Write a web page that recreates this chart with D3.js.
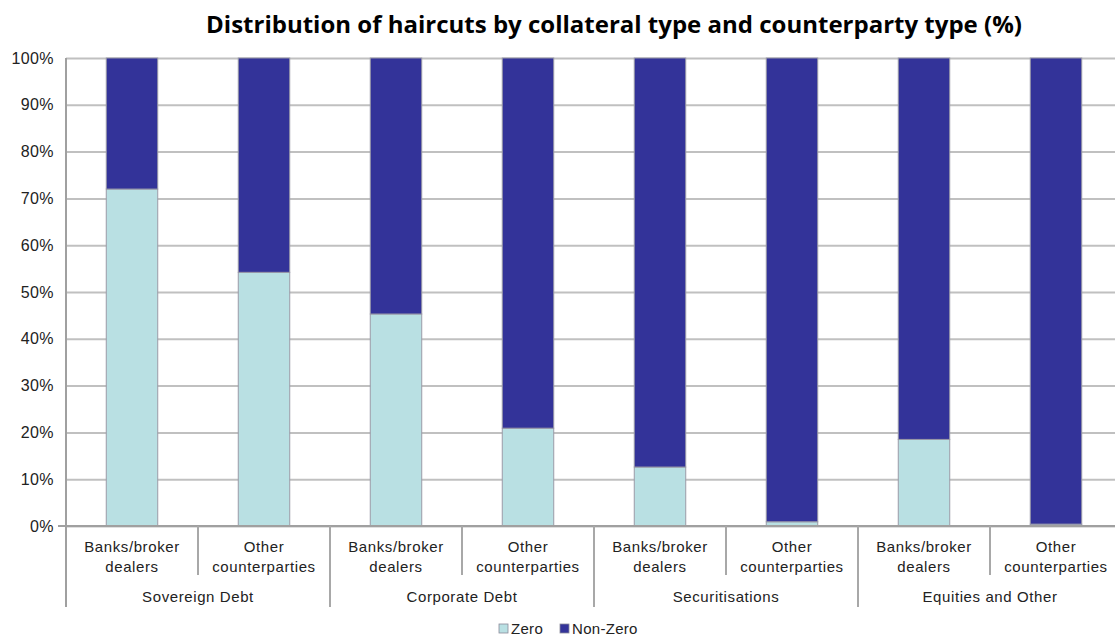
<!DOCTYPE html>
<html>
<head>
<meta charset="utf-8">
<script src="https://cdn.jsdelivr.net/npm/d3@7"></script>
<style>
  body { margin: 0; background: #fff; }
  svg { display: block; }
</style>
</head>
<body>
<div id="chart"></div>
<script>
const groups = ["Sovereign Debt", "Corporate Debt", "Securitisations", "Equities and Other"]
const counterparties = ["Banks/broker dealers", "Other counterparties"]
const zeroValues = [72, 54.2, 45.3, 20.9, 12.6, 0.9, 18.5, 0.4]
const yTicks = [0, 10, 20, 30, 40, 50, 60, 70, 80, 90, 100]
const seriesNames = ["Zero", "Non-Zero"]

const width = 1115
const height = 642
const plotLeft = 66
const bandW = 132
const plotTop = 58
const plotBottom = 526

const colors = { "Zero": "#b9e0e3", "Non-Zero": "#333399" }
const labelFont = '"Liberation Sans", Arial, sans-serif'

// build rows: one per bar
const rows = []
groups.forEach(function(g, gi) {
  counterparties.forEach(function(c, ci) {
    const z = zeroValues[gi * 2 + ci]
    rows.push({ key: g + "|" + c, group: g, cp: c, Zero: z, "Non-Zero": 100 - z })
  })
})

const xScale = d3.scaleBand()
  .domain(rows.map(function(d) { return d.key }))
  .range([plotLeft, plotLeft + bandW * rows.length])
  .paddingInner(0.61)
  .paddingOuter(0.305)

const groupScale = d3.scaleBand()
  .domain(groups)
  .range([plotLeft, plotLeft + bandW * rows.length])

const yScale = d3.scaleLinear().domain([0, 100]).range([plotBottom, plotTop])

const svg = d3.select('#chart').append('svg').attr('width', width).attr('height', height)

svg.append('text')
  .attr('x', 614)
  .attr('y', 33)
  .attr('text-anchor', 'middle')
  .attr('font-family', '"Open Sans", Lato, sans-serif')
  .attr('font-weight', 'bold')
  .attr('font-size', '24px')
  .attr('fill', '#000')
  .text('Distribution of haircuts by collateral type and counterparty type (%)')

// gridlines
const yAxis = d3.axisLeft(yScale)
  .tickValues(yTicks)
  .tickFormat(function(d) { return d + '%' })
  .tickSize(-(bandW * rows.length))
  .tickPadding(12)

const yg = svg.append('g').attr('transform', 'translate(' + plotLeft + ',0)').call(yAxis)
yg.select('.domain').remove()
yg.selectAll('.tick line').attr('stroke', '#c0c0c0').attr('stroke-width', 2)
yg.selectAll('.tick text')
  .attr('font-family', labelFont)
  .attr('font-size', '16px')
  .attr('letter-spacing', '0.4px')
  .attr('fill', '#222')

// stacked bars
const stack = d3.stack().keys(seriesNames)(rows)

svg.append('g').selectAll('g').data(stack).enter()
  .append('g')
  .attr('fill', function(s) { return colors[s.key] })
  .selectAll('rect').data(function(s) { return s }).enter()
  .append('rect')
  .attr('x', function(d) { return xScale(d.data.key) })
  .attr('width', xScale.bandwidth())
  .attr('y', function(d) { return yScale(d[1]) })
  .attr('height', function(d) { return yScale(d[0]) - yScale(d[1]) })
  .attr('stroke', '#9a9aa8')
  .attr('stroke-width', 1)

// left axis line
svg.append('line')
  .attr('x1', plotLeft).attr('x2', plotLeft)
  .attr('y1', plotTop).attr('y2', 607)
  .attr('stroke', '#a0a0a0').attr('stroke-width', 2)

// bottom baseline
svg.append('line')
  .attr('x1', plotLeft - 8).attr('x2', plotLeft + bandW * rows.length)
  .attr('y1', plotBottom).attr('y2', plotBottom)
  .attr('stroke', '#a0a0a0').attr('stroke-width', 2)

// separators between bars (short) and groups (long)
const step = xScale.step()
rows.forEach(function(d, i) {
  if (i === 0) return
  const x = xScale(d.key) - (step - xScale.bandwidth()) / 2
  svg.append('line')
    .attr('x1', x).attr('x2', x)
    .attr('y1', plotBottom).attr('y2', i % 2 === 0 ? 607 : 575)
    .attr('stroke', '#a8a8a8').attr('stroke-width', 2)
})

// counterparty labels
const cpLabels = svg.append('g')
rows.forEach(function(d) {
  const cx = xScale(d.key) + xScale.bandwidth() / 2
  const words = d.cp === 'Other counterparties' ? ['Other', 'counterparties'] : ['Banks/broker', 'dealers']
  const t = cpLabels.append('text')
    .attr('text-anchor', 'middle')
    .attr('font-family', labelFont)
    .attr('font-size', '15px')
    .attr('letter-spacing', '0.6px')
    .attr('fill', '#222')
  words.forEach(function(w, wi) {
    t.append('tspan').attr('x', cx).attr('y', 552 + wi * 20).text(w)
  })
})

// group labels
svg.append('g').selectAll('text').data(groups).enter()
  .append('text')
  .attr('x', function(g) { return groupScale(g) + groupScale.bandwidth() / 2 })
  .attr('y', 602)
  .attr('text-anchor', 'middle')
  .attr('font-family', labelFont)
  .attr('font-size', '15px')
  .attr('letter-spacing', '0.6px')
  .attr('fill', '#222')
  .text(function(g) { return g })

// legend
const legendX = [499, 560]
const legend = svg.append('g')
seriesNames.forEach(function(s, i) {
  legend.append('rect')
    .attr('x', legendX[i]).attr('y', 624)
    .attr('width', 9).attr('height', 9)
    .attr('fill', colors[s])
    .attr('stroke', '#8a8a9a').attr('stroke-width', 0.8)
  legend.append('text')
    .attr('x', legendX[i] + 12).attr('y', 634)
    .attr('font-family', labelFont)
    .attr('font-size', '15px')
    .attr('letter-spacing', '0.3px')
    .attr('fill', '#222')
    .text(s)
})
</script>
</body>
</html>
